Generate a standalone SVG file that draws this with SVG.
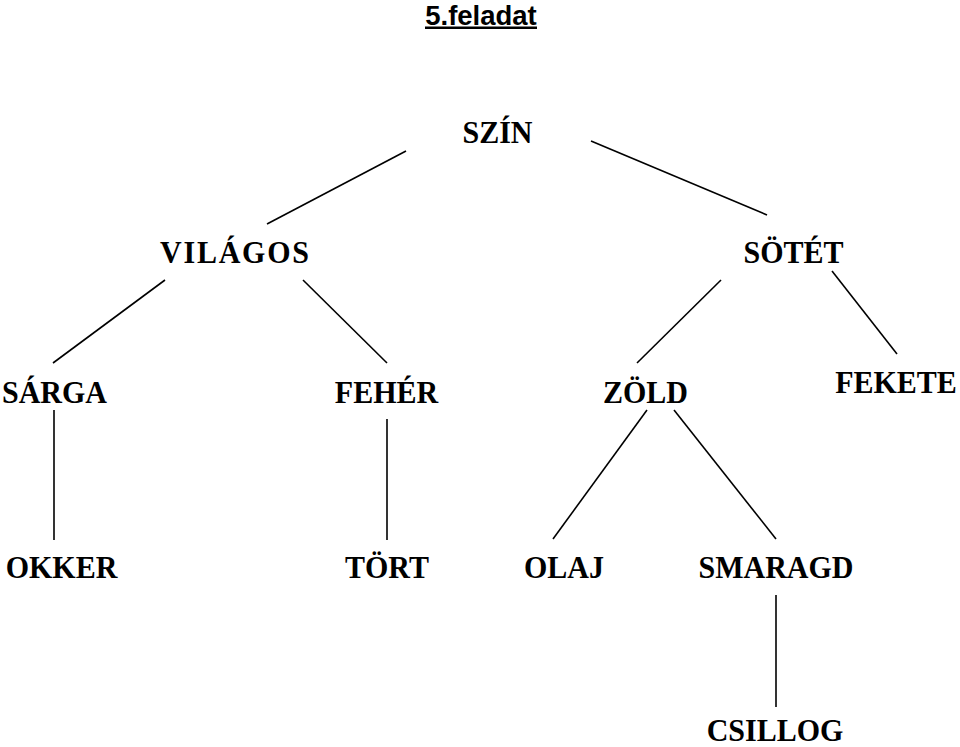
<svg xmlns="http://www.w3.org/2000/svg" width="960" height="747" viewBox="0 0 960 747">
<style>
.lbl{font-family:"Liberation Serif","Times New Roman",serif;font-weight:bold;font-size:30px;fill:#000;text-anchor:middle}
.ttl{font-family:"Liberation Sans",Arial,sans-serif;font-weight:bold;font-size:27.5px;fill:#000;text-anchor:middle}
.edge{stroke:#000;stroke-width:1.6;fill:none}
</style>
<rect width="960" height="747" fill="#fff"/>
<g id="title">
<text class="ttl" x="481" y="24.5">5.feladat</text>
<rect x="425" y="26.5" width="112" height="2.5" fill="#000"/>
</g>
<g id="connectors">
<line class="edge" x1="406" y1="151" x2="267" y2="224"/>
<line class="edge" x1="591" y1="141" x2="767" y2="215"/>
<line class="edge" x1="165" y1="280" x2="53" y2="363"/>
<line class="edge" x1="303" y1="280" x2="387" y2="363"/>
<line class="edge" x1="721" y1="280" x2="637" y2="363"/>
<line class="edge" x1="832" y1="271" x2="897" y2="354"/>
<line class="edge" x1="54" y1="410" x2="54" y2="540"/>
<line class="edge" x1="387" y1="419" x2="387" y2="540"/>
<line class="edge" x1="647" y1="410" x2="553" y2="539"/>
<line class="edge" x1="674" y1="410" x2="776" y2="539"/>
<line class="edge" x1="776" y1="595" x2="776" y2="707"/>
</g>
<g id="szin"><text class="lbl" transform="translate(497.5,143) scale(1,1.08)">SZÍN</text></g>
<g id="vilagos"><text class="lbl" transform="translate(234.5,263) scale(1,1.08)" x="0" textLength="149">VILÁGOS</text></g>
<g id="sotet"><text class="lbl" transform="translate(793.5,263) scale(1,1.08)">SÖTÉT</text></g>
<g id="sarga"><text class="lbl" transform="translate(54.5,403) scale(1,1.08)">SÁRGA</text></g>
<g id="feher"><text class="lbl" transform="translate(386.5,403) scale(1,1.08)">FEHÉR</text></g>
<g id="zold"><text class="lbl" transform="translate(645.5,403) scale(1,1.08)">ZÖLD</text></g>
<g id="fekete"><text class="lbl" transform="translate(896,393) scale(1,1.08)">FEKETE</text></g>
<g id="okker"><text class="lbl" transform="translate(61.5,578) scale(1,1.08)">OKKER</text></g>
<g id="tort"><text class="lbl" transform="translate(387,578) scale(1,1.08)">TÖRT</text></g>
<g id="olaj"><text class="lbl" transform="translate(564,578) scale(1,1.08)">OLAJ</text></g>
<g id="smaragd"><text class="lbl" transform="translate(776,578) scale(1,1.08)">SMARAGD</text></g>
<g id="csillog"><text class="lbl" transform="translate(775,741) scale(1,1.08)">CSILLOG</text></g>
</svg>
